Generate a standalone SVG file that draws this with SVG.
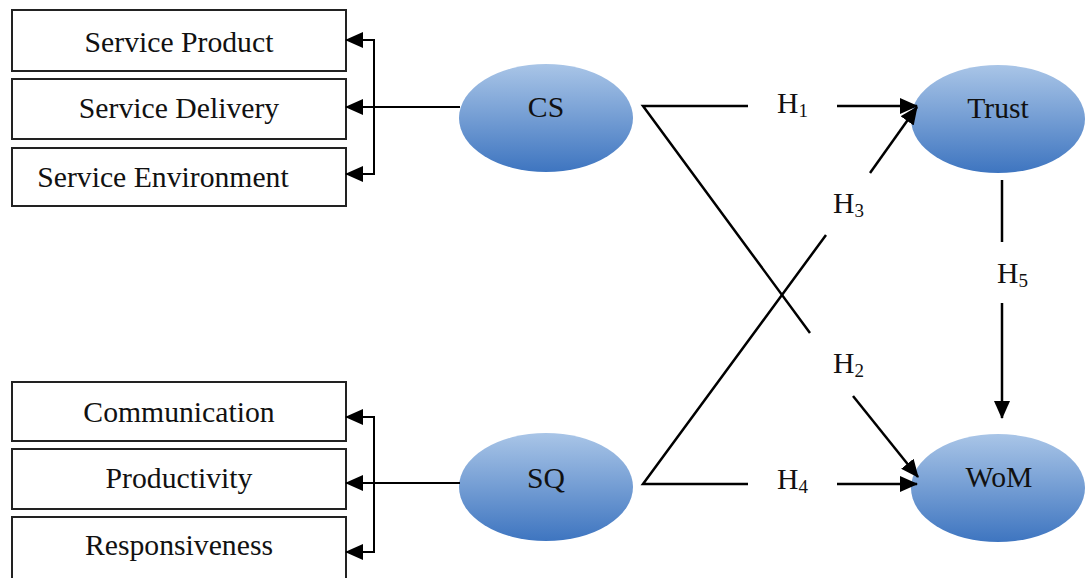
<svg xmlns="http://www.w3.org/2000/svg" width="1087" height="578" viewBox="0 0 1087 578">
<style>
.box{fill:#fff;stroke:#222;stroke-width:2}
.t{font-family:"Liberation Serif","Times New Roman",serif;font-size:29.7px;fill:#111}
.ln{fill:none;stroke:#000;stroke-width:2.5}
.thin{fill:none;stroke:#000;stroke-width:2}
.sub{font-size:19px}
</style>
<defs>
<linearGradient id="g" x1="0" y1="0" x2="0" y2="1">
<stop offset="0" stop-color="#a9c5e7"/>
<stop offset="1" stop-color="#3e75c0"/>
</linearGradient>
<marker id="ah" viewBox="0 0 18 16" refX="17" refY="8" markerWidth="18" markerHeight="16" markerUnits="userSpaceOnUse" orient="auto">
<path d="M0,0 L18,8 L0,16 z" fill="#000"/>
</marker>
</defs>
<g id="box-service-product"><rect class="box" x="12" y="10" width="334" height="61"/><text class="t" x="179" y="52" text-anchor="middle">Service Product</text></g>
<g id="box-service-delivery"><rect class="box" x="12" y="79" width="334" height="60"/><text class="t" x="179" y="118" text-anchor="middle">Service Delivery</text></g>
<g id="box-service-environment"><rect class="box" x="12" y="148" width="334" height="58"/><text class="t" x="163" y="187" text-anchor="middle">Service Environment</text></g>
<g id="box-communication"><rect class="box" x="12" y="382" width="334" height="59"/><text class="t" x="179" y="422" text-anchor="middle">Communication</text></g>
<g id="box-productivity"><rect class="box" x="12" y="449" width="334" height="60"/><text class="t" x="179" y="488" text-anchor="middle">Productivity</text></g>
<g id="box-responsiveness"><rect class="box" x="12" y="517" width="334" height="62"/><text class="t" x="179" y="555" text-anchor="middle">Responsiveness</text></g>
<g id="node-cs"><ellipse cx="546" cy="118" rx="87" ry="54" fill="url(#g)"/><text class="t" x="546" y="117" text-anchor="middle">CS</text></g>
<g id="node-sq"><ellipse cx="546" cy="487" rx="87" ry="54" fill="url(#g)"/><text class="t" x="546" y="488" text-anchor="middle">SQ</text></g>
<g id="node-trust"><ellipse cx="998" cy="119" rx="87" ry="54" fill="url(#g)"/><text class="t" x="998" y="118" text-anchor="middle">Trust</text></g>
<g id="node-wom"><ellipse cx="998" cy="488" rx="87" ry="54" fill="url(#g)"/><text class="t" x="999" y="487" text-anchor="middle">WoM</text></g>
<g id="connectors">
<line class="thin" x1="460" y1="107" x2="346" y2="107" marker-end="url(#ah)"/>
<polyline class="thin" points="346,40 374,40 374,174 346,174"/>
<line class="thin" x1="374" y1="40" x2="346" y2="40" marker-end="url(#ah)"/>
<line class="thin" x1="374" y1="174" x2="346" y2="174" marker-end="url(#ah)"/>
<line class="thin" x1="460" y1="483" x2="346" y2="483" marker-end="url(#ah)"/>
<polyline class="thin" points="346,417 374,417 374,552 346,552"/>
<line class="thin" x1="374" y1="417" x2="346" y2="417" marker-end="url(#ah)"/>
<line class="thin" x1="374" y1="552" x2="346" y2="552" marker-end="url(#ah)"/>
<polyline class="ln" points="748,106 643,106 810,333"/>
<line class="ln" x1="837" y1="106" x2="917" y2="106" marker-end="url(#ah)"/>
<line class="ln" x1="853" y1="396" x2="918" y2="477" marker-end="url(#ah)"/>
<polyline class="ln" points="748,484 643,484 826,235"/>
<line class="ln" x1="870" y1="173" x2="917" y2="107" marker-end="url(#ah)"/>
<line class="ln" x1="837" y1="484" x2="917" y2="484" marker-end="url(#ah)"/>
<line class="ln" x1="1002" y1="180" x2="1002" y2="242"/>
<line class="ln" x1="1002" y1="303" x2="1002" y2="418" marker-end="url(#ah)"/>
<text class="t" x="777" y="113">H<tspan class="sub" dy="4">1</tspan></text>
<text class="t" x="833" y="213">H<tspan class="sub" dy="4">3</tspan></text>
<text class="t" x="833" y="373">H<tspan class="sub" dy="4">2</tspan></text>
<text class="t" x="777" y="489">H<tspan class="sub" dy="4">4</tspan></text>
<text class="t" x="997" y="283">H<tspan class="sub" dy="4">5</tspan></text>
</g>
</svg>
